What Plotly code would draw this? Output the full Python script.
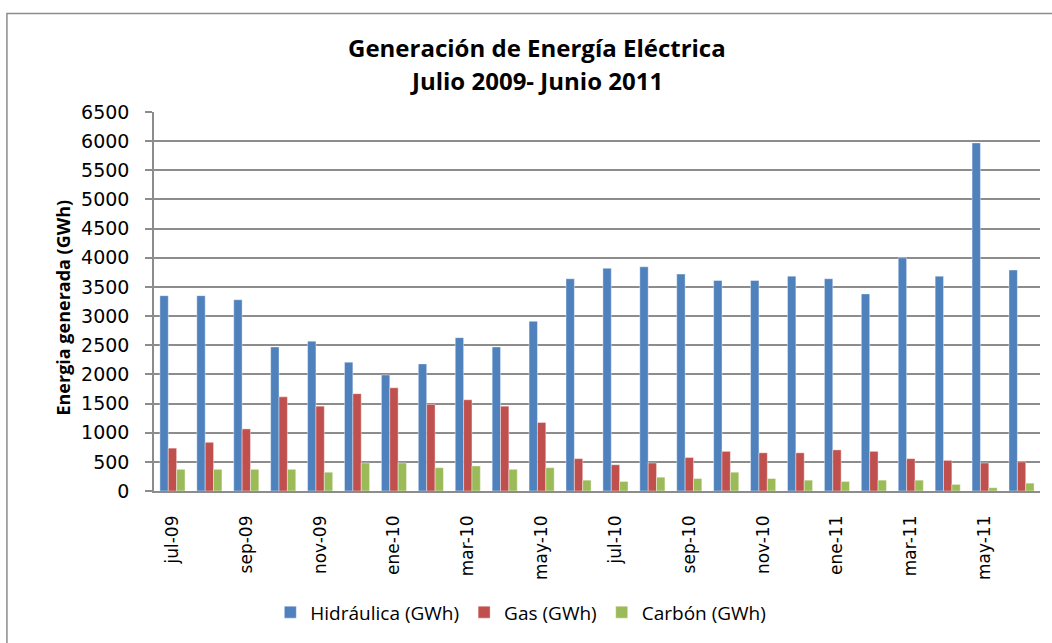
import plotly.graph_objects as go

months = ["jul-09", "ago-09", "sep-09", "oct-09", "nov-09", "dic-09",
          "ene-10", "feb-10", "mar-10", "abr-10", "may-10", "jun-10",
          "jul-10", "ago-10", "sep-10", "oct-10", "nov-10", "dic-10",
          "ene-11", "feb-11", "mar-11", "abr-11", "may-11", "jun-11"]

hidraulica = [3350, 3350, 3280, 2470, 2570, 2210, 1990, 2180, 2630, 2470, 2910, 3640,
              3820, 3845, 3720, 3610, 3610, 3685, 3640, 3380, 4000, 3685, 5970, 3790]
gas = [735, 835, 1065, 1615, 1455, 1670, 1770, 1485, 1565, 1455, 1175, 555,
       450, 480, 575, 680, 655, 655, 705, 680, 555, 525, 480, 500]
carbon = [372, 372, 372, 372, 322, 480, 480, 400, 430, 372, 400, 186,
          164, 237, 214, 322, 214, 186, 164, 186, 186, 113, 56, 135]

tick_labels = months[::2]
y_ticks = list(range(0, 6501, 500))

humanist = "Open Sans"
wide = "DejaVu Sans"

fig = go.Figure()
for name, vals, col in [("Hidráulica (GWh)", hidraulica, "#4F81BD"),
                        ("Gas (GWh)", gas, "#C0504D"),
                        ("Carbón (GWh)", carbon, "#9BBB59")]:
    fig.add_trace(go.Bar(x=months, y=vals, name=name, marker_color=col,
                         marker_line=dict(color="rgba(255,255,255,0.5)", width=0.8)))

fig.update_layout(
    width=1052, height=643,
    margin=dict(l=154, r=12, t=112, b=147),
    paper_bgcolor="white", plot_bgcolor="white",
    barmode="group", bargap=0.32, bargroupgap=0,
    showlegend=True,
    legend=dict(orientation="h", x=0.414, xanchor="center", y=-0.32, yanchor="middle",
                font=dict(family=humanist, size=19, color="#000"),
                itemwidth=30, traceorder="normal"),
    font=dict(family=wide, color="#000"),
)
fig.update_xaxes(
    type="category", tickmode="array", tickvals=tick_labels, ticktext=tick_labels,
    tickangle=-90, tickfont=dict(family=wide, size=17, color="#000"),
    showline=True, linecolor="#8c8c8c", linewidth=1.5, showgrid=False,
    ticks="", ticklabelstandoff=16,
)
fig.update_yaxes(
    range=[0, 6500], tickmode="array", tickvals=y_ticks,
    tickfont=dict(family=wide, size=19, color="#000"),
    showgrid=True, gridcolor="#8c8c8c", gridwidth=1.5,
    showline=True, linecolor="#8c8c8c", linewidth=1.5,
    ticks="outside", ticklen=7, tickcolor="#8c8c8c", tickwidth=1.5,
    zeroline=False, ticklabelstandoff=12,
)
fig.add_annotation(text="<b>Energia generada (GWh)</b>", xref="paper", yref="paper",
                   x=-0.1027, y=0.484, showarrow=False, textangle=-90,
                   xanchor="center", yanchor="middle",
                   font=dict(family=humanist, size=18, color="#000"))
fig.add_annotation(text="<b>Generación de Energía Eléctrica</b>", xref="paper", yref="paper",
                   x=0.432, y=1.169, showarrow=False, xanchor="center", yanchor="middle",
                   font=dict(family=humanist, size=24, color="#000"))
fig.add_annotation(text="<b>Julio 2009- Junio 2011</b>", xref="paper", yref="paper",
                   x=0.432, y=1.083, showarrow=False, xanchor="center", yanchor="middle",
                   font=dict(family=humanist, size=24, color="#000"))
fig.add_shape(type="rect", xref="paper", yref="paper",
              x0=-0.166, x1=1.2, y0=-0.5, y1=1.26,
              line=dict(color="#8c8c8c", width=1.5), fillcolor="rgba(0,0,0,0)", layer="below")

fig.write_html("out.html", config={"displayModeBar": False},
               post_script="document.body.style.margin='0';document.body.style.overflow='hidden';")
